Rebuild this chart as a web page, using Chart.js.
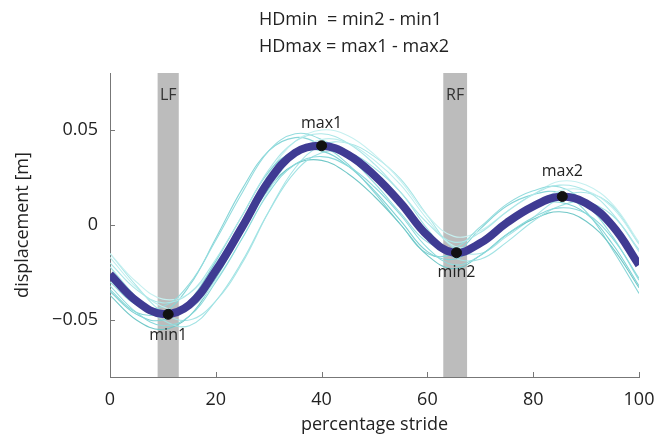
<!DOCTYPE html>
<html>
<head>
<meta charset="utf-8">
<script src="https://cdn.jsdelivr.net/npm/chart.js@4"></script>
<style>
  html, body { margin: 0; padding: 0; background: #fff; }
  #wrap { width: 657px; height: 436px; }
</style>
</head>
<body>
<div id="wrap"><canvas id="strideChart"></canvas></div>
<script>
// percentage stride samples
const stride = [0, 5, 10, 15, 20, 25, 30, 35, 40, 45, 50, 55, 60, 65, 70, 75, 80, 85, 90, 95, 100];

// mean displacement [m]
const meanDisp = [-0.026, -0.040, -0.0468, -0.042, -0.024, -0.001, 0.023, 0.038, 0.0417, 0.037, 0.026, 0.0114, -0.0055, -0.0146, -0.0095, 0.0012, 0.0098, 0.0149, 0.0115, -0.0005, -0.021];

// single strides
const trial01 = [-0.020, -0.034, -0.041, -0.036, -0.018, 0.005, 0.029, 0.044, 0.048, 0.043, 0.032, 0.017, 0.001, -0.009, -0.004, 0.007, 0.016, 0.021, 0.018, 0.006, -0.014];
const trial02 = [-0.032, -0.046, -0.053, -0.048, -0.030, -0.007, 0.017, 0.032, 0.036, 0.031, 0.020, 0.005, -0.012, -0.021, -0.016, -0.005, 0.004, 0.009, 0.006, -0.007, -0.028];
const trial03 = [-0.017, -0.033, -0.043, -0.044, -0.029, -0.007, 0.018, 0.037, 0.045, 0.043, 0.034, 0.021, 0.003, -0.011, -0.010, 0.000, 0.010, 0.018, 0.018, 0.009, -0.010];
const trial04 = [-0.035, -0.047, -0.050, -0.040, -0.019, 0.005, 0.028, 0.039, 0.039, 0.031, 0.018, 0.002, -0.014, -0.018, -0.009, 0.002, 0.010, 0.012, 0.006, -0.010, -0.032];
const trial05 = [-0.022, -0.038, -0.050, -0.053, -0.040, -0.019, 0.007, 0.028, 0.038, 0.038, 0.030, 0.017, -0.002, -0.017, -0.018, -0.009, 0.002, 0.010, 0.012, 0.005, -0.013];
const trial06 = [-0.030, -0.042, -0.043, -0.031, -0.008, 0.017, 0.039, 0.048, 0.045, 0.036, 0.022, 0.006, -0.009, -0.012, -0.001, 0.011, 0.018, 0.020, 0.011, -0.006, -0.029];
const trial07 = [-0.015, -0.030, -0.039, -0.036, -0.020, 0.002, 0.027, 0.044, 0.050, 0.047, 0.037, 0.023, 0.005, -0.006, -0.003, 0.007, 0.016, 0.023, 0.021, 0.011, -0.009];
const trial08 = [-0.037, -0.050, -0.055, -0.048, -0.028, -0.004, 0.019, 0.032, 0.034, 0.027, 0.015, 0.000, -0.016, -0.023, -0.016, -0.005, 0.003, 0.007, 0.002, -0.012, -0.033];
const trial09 = [-0.015, -0.032, -0.046, -0.050, -0.040, -0.020, 0.007, 0.030, 0.042, 0.043, 0.036, 0.024, 0.005, -0.012, -0.015, -0.006, 0.004, 0.014, 0.017, 0.010, -0.010];
const trial10 = [-0.034, -0.046, -0.046, -0.032, -0.007, 0.019, 0.039, 0.046, 0.042, 0.032, 0.017, 0.000, -0.015, -0.015, -0.002, 0.010, 0.016, 0.017, 0.007, -0.013, -0.036];

// extremes
const extremeNames = ['min1', 'max1', 'min2', 'max2'];
const extremeX = [11, 40, 65.5, 85.5];
const extremeY = [-0.047, 0.0417, -0.0146, 0.015];

// foot contact bands (LF / RF)
const stanceNames = ['LF', 'RF'];
const stanceStart = [9, 63];
const stanceEnd = [13, 67.5];

const xTicks = [0, 20, 40, 60, 80, 100];
const yTicks = [-0.05, 0, 0.05];
const titleLines = ['HDmin  = min2 - min1', 'HDmax = max1 - max2'];

const FONT = "'Open Sans', 'DejaVu Sans', sans-serif";
const trialColors = ['#ade7e8', '#8cdadc', '#bfeeee', '#7fd2d4', '#a2e3e4', '#94dcde', '#c6f0f0', '#72c8c8', '#a8e5e6', '#88d6d8'];
const trials = [trial01, trial02, trial03, trial04, trial05, trial06, trial07, trial08, trial09, trial10];

const toPoints = (ys) => stride.map((x, i) => ({ x, y: ys[i] }));

// lower order is drawn on top
const datasets = trials.map((t, i) => ({
  type: 'line',
  order: 3,
  data: toPoints(t),
  borderColor: trialColors[i],
  borderWidth: 1.1,
  pointRadius: 0,
  tension: 0.4,
}));

datasets.push({
  type: 'line',
  order: 2,
  data: toPoints(meanDisp),
  borderColor: '#3f3b93',
  borderWidth: 8,
  pointRadius: 0,
  tension: 0.4,
});

datasets.push({
  type: 'scatter',
  order: 1,
  data: extremeX.map((x, i) => ({ x, y: extremeY[i] })),
  backgroundColor: '#111',
  borderColor: '#111',
  pointRadius: 5,
});

// grey stance bands behind the curves
const bandPlugin = {
  id: 'bands',
  beforeDatasetsDraw(chart) {
    const { ctx, chartArea, scales } = chart;
    ctx.save();
    stanceNames.forEach((name, i) => {
      const x0 = scales.x.getPixelForValue(stanceStart[i]);
      const x1 = scales.x.getPixelForValue(stanceEnd[i]);
      ctx.fillStyle = '#bcbcbc';
      ctx.fillRect(x0, chartArea.top, x1 - x0, chartArea.bottom - chartArea.top);
      ctx.fillStyle = '#333';
      ctx.font = `16px ${FONT}`;
      ctx.textAlign = 'center';
      ctx.textBaseline = 'middle';
      ctx.fillText(name, (x0 + x1) / 2, chartArea.top + 22);
    });
    ctx.restore();
  },
};

// labels next to the extremes, inward tick marks, title
const annotatePlugin = {
  id: 'annotate',
  afterDatasetsDraw(chart) {
    const { ctx, chartArea, scales } = chart;
    ctx.save();
    ctx.fillStyle = '#222';
    ctx.font = `16px ${FONT}`;
    ctx.textAlign = 'center';
    ctx.textBaseline = 'middle';
    const offsets = [21, -22, 20, -25];
    extremeNames.forEach((name, i) => {
      const px = scales.x.getPixelForValue(extremeX[i]);
      const py = scales.y.getPixelForValue(extremeY[i]);
      ctx.fillText(name, px, py + offsets[i]);
    });

    ctx.strokeStyle = '#777';
    ctx.lineWidth = 1;
    xTicks.forEach((v) => {
      const px = Math.round(scales.x.getPixelForValue(v)) + 0.5;
      ctx.beginPath();
      ctx.moveTo(px, chartArea.bottom);
      ctx.lineTo(px, chartArea.bottom - 5);
      ctx.stroke();
    });
    yTicks.forEach((v) => {
      const py = Math.round(scales.y.getPixelForValue(v)) + 0.5;
      ctx.beginPath();
      ctx.moveTo(chartArea.left, py);
      ctx.lineTo(chartArea.left + 5, py);
      ctx.stroke();
    });

    ctx.font = `18px ${FONT}`;
    ctx.textAlign = 'left';
    ctx.fillText(titleLines[0], 259, 20);
    ctx.fillText(titleLines[1], 259, 47);
    ctx.restore();
  },
};

new Chart(document.getElementById('strideChart'), {
  data: { datasets },
  options: {
    responsive: true,
    maintainAspectRatio: false,
    animation: false,
    layout: { padding: { top: 73, right: 18, left: 0, bottom: 0 } },
    plugins: {
      legend: { display: false },
      tooltip: { enabled: false },
    },
    scales: {
      x: {
        type: 'linear',
        min: 0,
        max: 100,
        afterFit: (s) => {
          s.height = 59;
          s.paddingLeft = 0;
          s.paddingRight = 0;
        },
        afterBuildTicks: (s) => { s.ticks = xTicks.map((value) => ({ value })); },
        grid: { display: false, drawTicks: false },
        border: { display: true, color: '#777', width: 1 },
        ticks: { padding: 12, color: '#222', font: { family: FONT, size: 18 } },
        title: {
          display: true,
          text: 'percentage stride',
          color: '#222',
          font: { family: FONT, size: 18 },
          padding: { top: 0, bottom: 0 },
        },
      },
      y: {
        type: 'linear',
        min: -0.08,
        max: 0.08,
        afterFit: (s) => {
          s.width = 110;
          s.paddingTop = 0;
          s.paddingBottom = 0;
        },
        afterBuildTicks: (s) => { s.ticks = yTicks.map((value) => ({ value })); },
        grid: { display: false, drawTicks: false },
        border: { display: true, color: '#777', width: 1 },
        ticks: {
          padding: 12,
          color: '#222',
          font: { family: FONT, size: 18 },
          callback: (v) => (v === 0 ? '0' : (v < 0 ? '\u2212' + Math.abs(v).toFixed(2) : v.toFixed(2))),
        },
        title: {
          display: true,
          text: 'displacement [m]',
          color: '#222',
          font: { family: FONT, size: 18 },
          padding: { top: 12, bottom: 0 },
        },
      },
    },
  },
  plugins: [bandPlugin, annotatePlugin],
});
</script>
</body>
</html>
